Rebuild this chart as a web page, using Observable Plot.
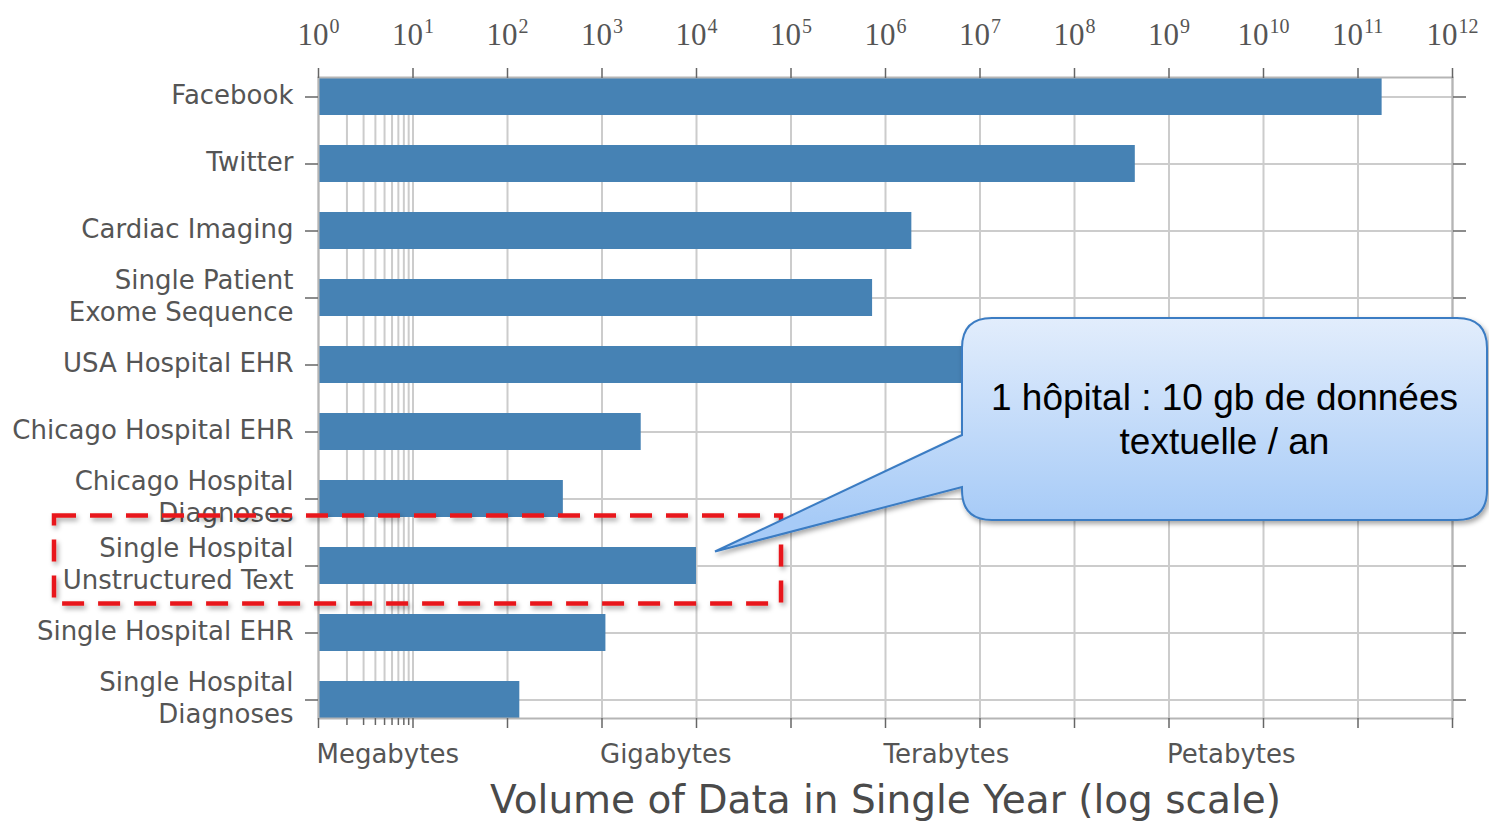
<!DOCTYPE html>
<html><head><meta charset="utf-8">
<script src="https://cdn.jsdelivr.net/npm/d3@7"></script>
<script src="https://cdn.jsdelivr.net/npm/@observablehq/plot@0.6"></script>
<style>body{margin:0;background:#fff}</style>
</head><body><div id="chart"></div>
<script>
// ---- data ----
const categories = [
  "Facebook",
  "Twitter",
  "Cardiac Imaging",
  "Single Patient\nExome Sequence",
  "USA Hospital EHR",
  "Chicago Hospital EHR",
  "Chicago Hospital\nDiagnoses",
  "Single Hospital\nUnstructured Text",
  "Single Hospital EHR",
  "Single Hospital\nDiagnoses"
];
const volumesMB = [1.8e11, 4.4e8, 1.9e6, 7.3e5, 5e7, 2.6e3, 390, 1e4, 1.1e3, 135];
const decadeTicks = [1, 1e1, 1e2, 1e3, 1e4, 1e5, 1e6, 1e7, 1e8, 1e9, 1e10, 1e11, 1e12];
const minorTicks = [2, 3, 4, 5, 6, 7, 8, 9];
const unitLabels = ["Megabytes", "Gigabytes", "Terabytes", "Petabytes"];
const unitPositions = [1, 1e3, 1e6, 1e9];
const axisTitle = "Volume of Data in Single Year (log scale)";
const calloutLines = ["1 hôpital : 10 gb de données", "textuelle / an"];
const highlighted = "Single Hospital\nUnstructured Text";

const exponent = v => String(Math.round(Math.log10(v)));
const oneDigit = decadeTicks.filter(v => exponent(v).length === 1);
const twoDigit = decadeTicks.filter(v => exponent(v).length === 2);

const data = categories.map((name, i) => ({name, value: volumesMB[i]}));
const gridStyle = {stroke: "#cccccc", strokeOpacity: 1, strokeWidth: 2};
const tickStyle = {stroke: "#666", strokeWidth: 1.5, label: null};
const baseStyle = {frameAnchor: "top", lineAnchor: "bottom", fontFamily: "Liberation Serif", fill: "#555", textAnchor: "start"};

const plot = Plot.plot({
  width: 1489, height: 824,
  marginTop: 77, marginBottom: 106, marginLeft: 318, marginRight: 37,
  style: {fontFamily: "DejaVu Sans", color: "#555", background: "#fff", overflow: "visible"},
  x: {type: "log", domain: [1, 1e12], label: null},
  y: {domain: categories, paddingInner: 0.45, paddingOuter: 0, label: null},
  marks: [
    Plot.gridX(minorTicks, gridStyle),
    Plot.gridX(decadeTicks, gridStyle),
    Plot.gridY(gridStyle),
    Plot.barX(data, {x1: () => 1, x2: "value", y: "name", fill: "#4682b4"}),
    Plot.frame({stroke: "#b5b5b5", strokeWidth: 2}),
    Plot.axisX(decadeTicks, {anchor: "top", tickSize: 10, tickFormat: () => "", ...tickStyle}),
    // top tick labels: "10" with a raised exponent
    Plot.text(oneDigit, {x: d => d, text: () => "10", dx: -21, dy: -33, fontSize: 31, ...baseStyle}),
    Plot.text(oneDigit, {x: d => d, text: exponent, dx: 11, dy: -45, fontSize: 20, ...baseStyle}),
    Plot.text(twoDigit, {x: d => d, text: () => "10", dx: -26, dy: -33, fontSize: 31, ...baseStyle}),
    Plot.text(twoDigit, {x: d => d, text: exponent, dx: 6, dy: -45, fontSize: 20, ...baseStyle}),
    Plot.axisX(decadeTicks, {anchor: "bottom", tickSize: 10, tickFormat: () => "", ...tickStyle}),
    Plot.axisX(minorTicks, {anchor: "bottom", tickSize: 7, tickFormat: () => "", ...tickStyle}),
    Plot.axisY({anchor: "left", tickSize: 13, tickFormat: () => "", ...tickStyle}),
    Plot.axisY({anchor: "right", tickSize: 13, tickFormat: () => "", ...tickStyle}),
    Plot.text(categories, {y: d => d, text: d => d, frameAnchor: "left", dx: -25, dy: -3, textAnchor: "end",
      fontSize: 26, lineHeight: 1.2, fill: "#555"}),
    Plot.text(unitLabels, {x: (d, i) => unitPositions[i], text: d => d, frameAnchor: "bottom",
      dy: 44, dx: -2, textAnchor: "start", fontSize: 26, fill: "#555"}),
    Plot.text([axisTitle], {text: d => d, frameAnchor: "bottom", dy: 94, fontSize: 39, fill: "#4a4a4a"})
  ]
});
document.getElementById("chart").appendChild(plot);

// ---- annotations ----
const svg = d3.select(plot);
const xs = plot.scale("x"), ys = plot.scale("y");
const yc = ys.apply(highlighted) + ys.bandwidth / 2;

const defs = svg.append("defs");
const grad = defs.append("linearGradient").attr("id", "calloutGrad")
  .attr("gradientUnits", "userSpaceOnUse").attr("x1", 0).attr("x2", 0).attr("y1", 318).attr("y2", 520);
grad.append("stop").attr("offset", "0%").attr("stop-color", "#e2edfc");
grad.append("stop").attr("offset", "100%").attr("stop-color", "#a7cbf7");
const sh = defs.append("filter").attr("id", "shadow").attr("x", "-10%").attr("y", "-10%").attr("width", "130%").attr("height", "130%");
sh.append("feDropShadow").attr("dx", 2).attr("dy", 3).attr("stdDeviation", 2.5).attr("flood-color", "#000").attr("flood-opacity", 0.35);

// dashed highlight rectangle
const rx0 = 54, rx1 = xs.apply(10 ** 4.9);
svg.append("rect")
  .attr("x", rx0).attr("y", yc - 50).attr("width", rx1 - rx0).attr("height", 88)
  .attr("fill", "none").attr("stroke", "#e8191c").attr("stroke-width", 4.5)
  .attr("stroke-dasharray", "22 14").attr("filter", "url(#shadow)");

// callout
const L = 962, T = 318, R = 1487, B = 520, r = 30, yA = 435, yB = 487;
const tipX = xs.apply(1e4) + 19, tipY = yc - 14;
const p = `M${L + r},${T} H${R - r} Q${R},${T} ${R},${T + r} V${B - r} Q${R},${B} ${R - r},${B} H${L + r} Q${L},${B} ${L},${B - r}
 V${yB} L${tipX},${tipY} L${L},${yA} V${T + r} Q${L},${T} ${L + r},${T} Z`;
svg.append("path").attr("d", p).attr("fill", "url(#calloutGrad)")
  .attr("stroke", "#3b7cc3").attr("stroke-width", 2).attr("filter", "url(#shadow)");
svg.append("text").attr("x", (L + R) / 2).attr("text-anchor", "middle")
  .attr("font-family", "Liberation Sans, Arial, sans-serif").attr("font-size", 37).attr("fill", "#000")
  .selectAll("tspan").data(calloutLines).join("tspan")
  .attr("x", (L + R) / 2).attr("y", (d, i) => 410 + i * 44).text(d => d);
</script>
</body></html>
